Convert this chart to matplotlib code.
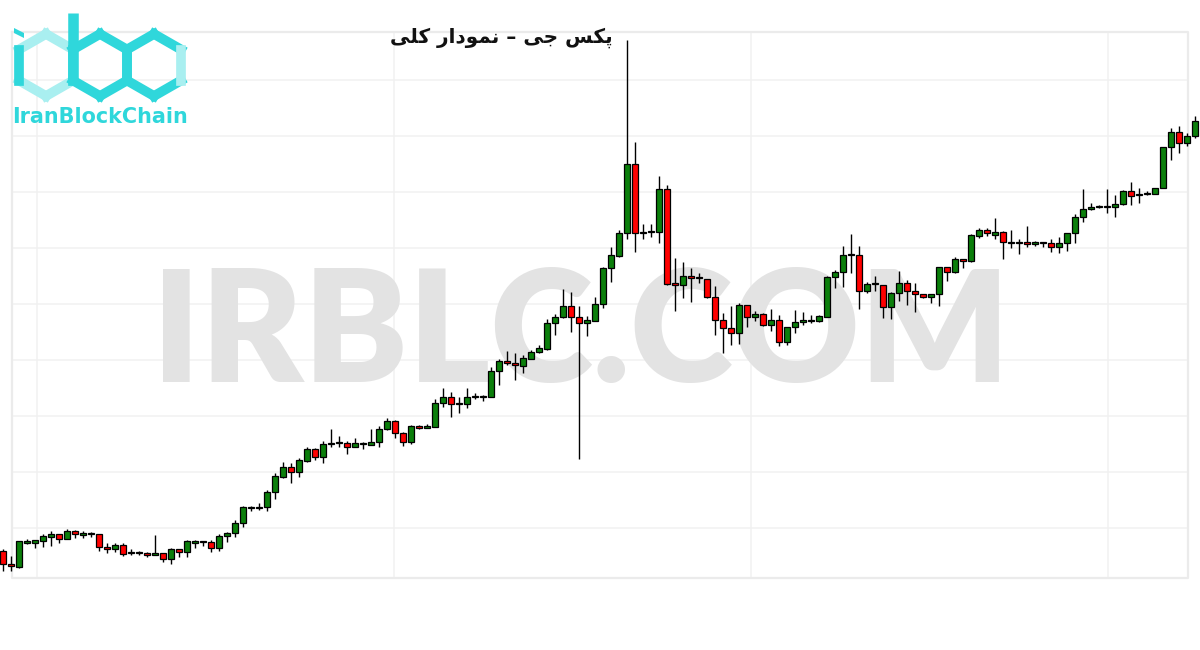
import matplotlib
matplotlib.use("Agg")
import matplotlib.pyplot as plt
import numpy as np

# ---------------- data (price units, oldest -> newest) ----------------
opens = [449, 436, 433, 457, 457, 459, 463, 466, 461, 469,
         465, 466, 466, 453, 451, 455, 447, 447, 447, 445,
         447, 441, 451, 448, 457, 458, 458, 452, 464, 467,
         477, 492, 492, 493, 508, 523, 533, 528, 539, 551,
         543, 556, 557, 557, 553, 556, 555, 558, 571, 579,
         567, 558, 574, 572, 573, 597, 603, 596, 596, 603,
         603, 603, 629, 639, 637, 634, 641, 648, 651, 677,
         683, 694, 683, 677, 679, 696, 732, 744, 767, 836,
         767, 768, 768, 811, 717, 715, 724, 722, 721, 703,
         680, 672, 667, 695, 683, 686, 675, 680, 658, 673,
         678, 679, 679, 683, 723, 728, 745, 745, 709, 716,
         715, 693, 707, 717, 709, 706, 703, 706, 733, 728,
         741, 739, 764, 770, 765, 768, 757, 757, 758, 756,
         757, 757, 753, 757, 767, 783, 791, 793, 793, 793,
         796, 809, 805, 806, 806, 812, 853, 868, 857, 864]
highs = [451, 444, 459, 461, 460, 466, 469, 466, 471, 470,
         469, 468, 466, 457, 457, 457, 451, 449, 448, 465,
         447, 452, 451, 460, 460, 459, 460, 466, 468, 480,
         494, 494, 497, 510, 527, 538, 537, 542, 553, 552,
         559, 571, 564, 559, 562, 558, 571, 574, 582, 580,
         568, 575, 575, 576, 601, 612, 608, 603, 612, 607,
         605, 633, 641, 649, 647, 645, 650, 655, 681, 686,
         711, 708, 694, 684, 703, 733, 753, 770, 960, 858,
         776, 776, 824, 815, 742, 738, 732, 727, 721, 714,
         687, 694, 697, 695, 689, 687, 691, 685, 673, 690,
         688, 685, 685, 724, 730, 754, 766, 754, 718, 724,
         715, 708, 729, 720, 717, 706, 706, 733, 733, 743,
         741, 766, 772, 772, 782, 769, 770, 761, 774, 759,
         757, 761, 763, 767, 786, 811, 797, 795, 811, 805,
         810, 818, 812, 809, 812, 853, 872, 874, 867, 884]
lows = [429, 429, 432, 456, 452, 453, 454, 457, 461, 462,
        462, 463, 449, 447, 448, 444, 445, 445, 443, 445,
        438, 436, 443, 443, 452, 454, 448, 449, 458, 463,
        473, 489, 490, 489, 501, 522, 517, 523, 538, 540,
        537, 553, 553, 546, 553, 551, 555, 553, 570, 562,
        554, 556, 571, 572, 573, 593, 583, 587, 592, 601,
        599, 603, 615, 635, 620, 627, 641, 647, 650, 665,
        682, 668, 541, 664, 679, 692, 718, 743, 761, 748,
        761, 763, 757, 715, 689, 702, 698, 717, 702, 665,
        647, 655, 656, 673, 679, 674, 669, 654, 655, 667,
        675, 677, 678, 683, 712, 713, 727, 691, 707, 709,
        682, 681, 699, 695, 688, 702, 697, 694, 719, 727,
        732, 738, 762, 764, 761, 741, 752, 746, 753, 754,
        753, 748, 747, 749, 757, 778, 790, 792, 787, 783,
        795, 795, 797, 805, 806, 812, 840, 847, 854, 862]
closes = [436, 434, 459, 459, 460, 464, 466, 461, 469, 466,
          467, 466, 453, 451, 455, 446, 447, 447, 445, 447,
          441, 451, 448, 459, 459, 458, 452, 464, 467, 477,
          493, 493, 493, 508, 524, 533, 528, 540, 551, 543,
          556, 557, 557, 553, 557, 557, 558, 571, 579, 567,
          558, 574, 572, 574, 597, 603, 596, 596, 603, 603,
          604, 629, 639, 637, 635, 642, 648, 652, 677, 683,
          694, 683, 677, 680, 696, 732, 745, 767, 836, 767,
          768, 768, 811, 716, 715, 724, 722, 722, 703, 680,
          672, 667, 695, 683, 686, 675, 680, 658, 673, 678,
          680, 680, 684, 723, 728, 745, 745, 709, 716, 716,
          693, 707, 717, 709, 706, 703, 706, 733, 728, 741,
          739, 765, 770, 767, 768, 758, 757, 757, 756, 758,
          757, 753, 757, 767, 783, 791, 793, 793, 793, 796,
          809, 804, 805, 806, 812, 853, 868, 857, 864, 879]

title_text = "پکس جی – نمودار کلی"
watermark_text = "IRBLC.COM"
logo_text = "IranBlockChain"

# ---------------- simple Persian shaping (presentation forms + RTL) ----------------
FORMS = {
    'پ': (0xFB56, 0xFB57, 0xFB58, 0xFB59),
    'ک': (0xFB8E, 0xFB8F, 0xFB90, 0xFB91),
    'س': (0xFEB1, 0xFEB2, 0xFEB3, 0xFEB4),
    'ج': (0xFE9D, 0xFE9E, 0xFE9F, 0xFEA0),
    'ی': (0xFBFC, 0xFBFD, 0xFBFE, 0xFBFF),
    'ن': (0xFEE5, 0xFEE6, 0xFEE7, 0xFEE8),
    'م': (0xFEE1, 0xFEE2, 0xFEE3, 0xFEE4),
    'ل': (0xFEDD, 0xFEDE, 0xFEDF, 0xFEE0),
    'و': (0xFEED, 0xFEEE, None, None),
    'د': (0xFEA9, 0xFEAA, None, None),
    'ا': (0xFE8D, 0xFE8E, None, None),
    'ر': (0xFEAD, 0xFEAE, None, None),
}


def shape_rtl(s):
    out = []
    for k, ch in enumerate(s):
        if ch not in FORMS:
            out.append(ch)
            continue
        prev = s[k - 1] if k > 0 else ''
        nxt = s[k + 1] if k + 1 < len(s) else ''
        f = FORMS[ch]
        jp = prev in FORMS and FORMS[prev][2] is not None
        jn = f[2] is not None and nxt in FORMS
        if jp and jn:
            c = f[3]
        elif jp:
            c = f[1]
        elif jn:
            c = f[2]
        else:
            c = f[0]
        out.append(chr(c))
    return ''.join(reversed(out))


# ---------------- figure ----------------
W, H = 1200, 650
fig = plt.figure(figsize=(W / 100, H / 100), dpi=100)
fig.patch.set_facecolor("white")

o = np.array(opens, float)
h = np.array(highs, float)
l = np.array(lows, float)
c = np.array(closes, float)
n = len(o)
x = np.arange(n)

ax = fig.add_axes([0, 0, 1, 1])
ax.set_xlim(-0.375, n - 0.375)
ax.set_ylim(1000 - H, 1000)
ax.axis("off")

# frame + light grid (figure-pixel decoration axes)
deco = fig.add_axes([0, 0, 1, 1], zorder=-1)
deco.set_xlim(0, W)
deco.set_ylim(H, 0)
deco.axis("off")
grid_c = "#f1f1f1"
for gy in 80 + 56 * np.arange(9):
    deco.plot([12, 1188], [gy, gy], color=grid_c, lw=1.1)
for gx in 37 + 357 * np.arange(4):
    deco.plot([gx, gx], [32, 578], color=grid_c, lw=1.1)
deco.plot([12, 1188, 1188, 12, 12], [32, 32, 578, 578, 32], color="#ebebeb", lw=1.6)

# watermark
wm = ax.text(0.5, 1 - 382 / H, watermark_text, transform=ax.transAxes,
             ha="center", va="baseline", color="#e3e3e3",
             family=["Lato", "DejaVu Sans"], fontweight="heavy",
             fontsize=114, zorder=0.5)
fig.canvas.draw()
bb = wm.get_window_extent()
wm.set_fontsize(114 * 858 / bb.width)
wm.set_x((152 + 1010) / 2 / W)

# candles
up = c >= o
colors = np.where(up, "#0b7f0b", "#ff0000")
body_lo = np.minimum(o, c)
body_h = np.maximum(np.abs(c - o), 1.0)
ax.vlines(x, l, h, color="black", lw=1.0, zorder=2)
ax.bar(x, body_h, bottom=body_lo, width=0.8, color=colors,
       edgecolor="black", linewidth=0.9, zorder=3)

# title
overlay = fig.add_axes([0, 0, 1, 1], zorder=5)
overlay.set_xlim(0, W)
overlay.set_ylim(H, 0)
overlay.axis("off")
tt = overlay.text(501, 43, shape_rtl(title_text), ha="center", va="baseline",
                  fontsize=16, fontweight="bold", color="#111111",
                  family=["DejaVu Sans"])
fig.canvas.draw()
bb = tt.get_window_extent()
tt.set_fontsize(16 * 223 / bb.width)

# logo
dark = "#2fd7db"
light = "#a9eff0"
lw_logo = 7.0


def hexpts(cx, cy=65, w=27, r=31):
    return [(cx, cy - r), (cx + w, cy - r / 2), (cx + w, cy + r / 2),
            (cx, cy + r), (cx - w, cy + r / 2), (cx - w, cy - r / 2)]


def seg(p, q, col):
    overlay.plot([p[0], q[0]], [p[1], q[1]], color=col, lw=lw_logo,
                 solid_capstyle="projecting", solid_joinstyle="miter")


hi = hexpts(46)
for a, b in [(0, 1), (2, 3), (3, 4), (5, 0)]:
    seg(hi[a], hi[b], light)
hb = hexpts(100)
hc = hexpts(154)
for a, b in [(0, 1), (1, 2), (2, 3), (3, 4), (4, 5), (5, 0)]:
    seg(hb[a], hb[b], dark)
for a, b in [(0, 1), (2, 3), (3, 4), (4, 5), (5, 0)]:
    seg(hc[a], hc[b], dark)
seg(hc[1], hc[2], light)
seg(hi[4], hi[5], dark)          # i stem
overlay.plot([73, 73], [13, 80], color=dark, lw=lw_logo + 0.6,
             solid_capstyle="butt")   # b stem
overlay.fill([14, 24, 24, 14], [28, 33, 38, 33], color=dark, lw=0)  # i dot

lt = overlay.text(12, 123, logo_text, ha="left", va="baseline", color=dark,
                  fontsize=14.5, fontweight="bold", family=["DejaVu Sans"])
fig.canvas.draw()
bb = lt.get_window_extent()
lt.set_fontsize(14.5 * 176 / bb.width)

fig.savefig("out.png", dpi=100)
